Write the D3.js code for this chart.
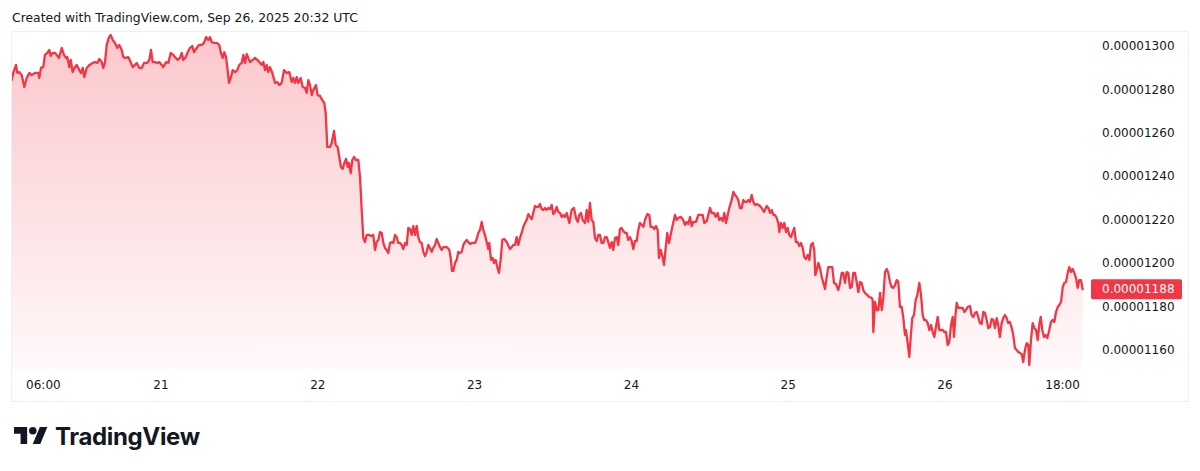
<!DOCTYPE html>
<html>
<head>
<meta charset="utf-8">
<script src="https://cdn.jsdelivr.net/npm/d3@7"></script>
<style>
  html, body { margin: 0; padding: 0; background: #ffffff; }
  svg { display: block; }
</style>
</head>
<body>
<svg id="chart" width="1200" height="471"></svg>
<script>
// ---- DATA ----
// Time of each point: hours after 2025-09-20 00:00 UTC
const hours = [
1.15,1.39,1.81,2.01,2.31,2.68,3.08,3.44,3.84,4.21,
4.71,5.22,5.37,5.63,5.98,6.24,6.60,6.90,7.12,7.42,
7.78,8.04,8.39,8.80,9.15,9.46,9.66,9.96,10.18,10.48,
10.84,11.10,11.49,11.76,12.02,12.26,12.63,13.03,13.55,13.90,
14.25,14.56,14.92,15.17,15.43,15.69,15.99,16.30,16.61,16.96,
17.31,17.62,17.98,18.23,18.64,18.99,19.36,19.67,20.02,20.28,
20.68,21.05,21.40,21.90,22.21,22.47,22.73,23.08,23.43,23.74,
24.11,24.35,24.77,25.12,25.48,25.88,26.25,26.56,26.91,27.17,
27.41,27.78,28.09,28.44,28.79,29.05,29.46,29.82,30.23,30.58,
30.89,31.24,31.50,31.76,32.11,32.53,32.92,33.18,33.44,33.69,
33.95,34.15,34.41,34.71,34.97,35.33,35.68,35.98,36.35,36.60,
36.86,37.12,37.36,37.62,38.04,38.39,38.74,39.05,39.41,39.66,
39.92,40.18,40.42,40.68,41.04,41.45,41.80,42.11,
42.47,42.83,43.24,43.64,44.01,44.25,44.51,44.77,45.01,45.38,
45.69,46.04,46.30,46.55,46.81,47.07,47.31,47.72,47.98,48.34,
48.69,48.99,49.21,49.45,49.87,50.13,50.48,50.74,51.04,51.29,
51.55,51.81,52.06,52.32,52.58,52.77,53.04,53.28,53.54,53.85,
54.20,54.46,54.72,54.96,55.22,55.48,55.84,56.14,56.49,56.75,
57.01,57.26,57.52,57.78,58.03,58.28,58.55,58.79,59.05,59.31,
59.56,59.82,60.08,60.32,60.58,60.84,61.09,61.35,61.61,61.85,
62.11,62.37,62.62,62.88,63.14,63.38,63.64,63.90,64.15,64.41,
64.67,64.91,65.17,65.43,65.68,65.94,66.20,66.44,66.70,66.96,
67.21,67.73,68.13,68.34,68.54,68.74,69.00,69.26,69.51,69.77,
70.03,70.27,70.53,70.79,71.03,71.30,71.56,72.06,72.32,72.56,
72.83,73.09,73.33,73.59,73.85,74.09,74.25,74.51,74.77,74.97,
75.23,75.47,75.73,75.99,76.24,76.54,76.91,77.42,77.68,77.92,
78.18,78.44,78.69,78.95,79.21,79.45,79.71,79.97,80.22,80.48,
80.74,80.98,81.24,81.50,81.75,82.01,82.27,82.51,82.77,83.03,
83.28,83.54,83.80,84.05,84.31,84.56,84.81,
85.07,85.33,85.58,85.83,86.10,86.50,86.86,87.21,87.52,87.78,
88.03,88.28,88.55,88.90,89.16,89.40,89.66,89.92,90.17,90.43,
90.69,90.93,91.19,91.45,91.70,91.96,92.22,92.46,92.72,92.98,
93.23,93.49,93.75,93.99,94.25,94.51,94.76,95.02,95.28,95.52,
95.78,96.04,96.29,96.55,96.81,97.05,97.31,97.57,97.82,98.08,
98.43,98.74,98.95,99.26,99.50,99.76,100.02,100.22,100.48,100.73,
100.99,101.25,101.49,101.75,102.01,102.26,102.67,102.93,103.18,103.54,
103.85,104.20,104.46,104.71,104.97,105.23,105.47,105.89,106.24,106.65,
106.91,107.16,107.53,107.77,108.03,108.29,108.64,108.90,109.21,109.45,
109.71,109.97,110.22,110.48,110.74,110.98,111.35,111.60,111.86,112.12,
112.36,112.62,112.88,113.13,113.39,113.65,113.89,114.15,114.41,114.66,
114.92,115.27,115.68,115.94,116.29,116.71,116.95,117.22,117.48,117.72,
117.98,118.24,118.48,118.64,118.89,119.16,119.40,119.66,119.92,120.17,
120.43,120.69,120.93,121.19,121.45,121.70,121.96,122.22,122.46,122.72,
122.98,123.23,123.49,123.75,123.99,124.15,124.36,124.61,
124.86,125.13,125.48,125.63,125.89,126.14,126.51,126.75,127.01,127.32,
127.67,127.93,128.19,128.43,128.69,128.95,129.20,129.46,129.72,129.96,
130.22,130.48,130.73,130.99,131.25,131.49,131.75,132.11,132.41,132.78,
132.93,133.03,133.29,133.55,133.80,134.06,134.32,134.56,134.82,135.08,
135.32,135.58,135.84,136.09,136.35,136.61,136.85,137.11,137.37,137.61,
137.87,138.03,138.23,138.54,138.75,138.99,139.25,139.51,139.76,140.07,
140.33,140.59,140.83,141.09,141.35,141.60,141.86,142.12,142.36,142.62,
142.88,143.13,143.39,143.65,143.89,144.15,144.41,144.66,144.92,145.18,
145.38,145.58,145.79,146.04,146.30,146.71,146.95,147.21,147.47,147.82,
148.08,148.33,148.59,148.85,149.09,149.35,149.61,149.86,150.12,150.38,
150.62,150.88,151.14,151.39,151.65,151.91,152.15,152.41,152.67,152.92,
153.18,153.44,153.68,153.95,154.21,154.45,154.71,154.97,155.22,155.48,
155.74,155.98,156.24,156.50,156.75,156.90,157.16,157.42,157.67,157.93,
158.19,158.43,158.65,158.89,159.15,159.41,159.66,159.96,160.22,160.48,
160.73,160.99,161.25,161.50,161.76,162.02,162.26,162.52,162.78,163.02,
163.28,163.54,163.79,164.05,164.31,164.55,164.81,165.07
];

// Price of each point, in units of 1e-8
const priceE8 = [
1284.3,1287.6,1291.3,1287.6,1288.0,1286.6,1281.1,1285.3,1287.6,1286.6,
1287.6,1287.6,1285.3,1289.9,1290.3,1295.9,1296.8,1298.2,1295.4,1296.8,
1296.8,1295.9,1294.5,1299.1,1295.9,1294.5,1294.9,1290.3,1293.6,1288.0,
1290.3,1291.3,1288.9,1287.6,1289.9,1285.7,1289.9,1291.3,1292.2,1292.6,
1292.2,1294.0,1292.6,1289.9,1292.6,1300.5,1303.7,1305.1,1302.8,1301.4,
1299.1,1300.5,1298.2,1294.9,1294.5,1294.9,1292.6,1290.3,1291.3,1292.2,
1289.9,1289.9,1292.2,1292.2,1293.6,1298.2,1292.6,1292.6,1292.2,1292.6,
1291.3,1290.3,1292.6,1292.2,1296.8,1295.9,1294.5,1293.6,1294.5,1296.8,
1293.6,1294.9,1297.2,1299.1,1300.0,1297.2,1299.1,1300.5,1300.5,1301.4,
1304.1,1302.8,1304.1,1301.8,1301.4,1301.4,1300.5,1296.8,1294.5,1297.2,
1294.9,1290.3,1283.0,1285.7,1288.9,1288.0,1288.9,1291.3,1292.2,1295.9,
1292.2,1296.3,1294.5,1292.6,1293.6,1294.5,1293.6,1292.6,1291.3,1292.6,
1288.9,1291.3,1288.0,1290.3,1287.6,1283.0,1283.4,1282.0,
1283.0,1288.9,1287.6,1288.0,1283.4,1285.3,1283.0,1285.7,1283.0,1285.3,
1281.1,1280.7,1278.4,1284.3,1282.0,1277.4,1279.7,1282.0,1277.4,1277.0,
1275.1,1273.8,1269.1,1253.5,1253.5,1255.3,1260.9,1254.4,1253.5,1248.9,
1244.3,1243.4,1246.1,1248.0,1244.3,1246.1,1241.5,1247.5,1248.9,1247.5,
1247.5,1239.7,1224.5,1211.6,1209.7,1213.0,1213.0,1212.5,1213.0,1206.1,
1209.7,1210.7,1214.3,1213.9,1209.3,1207.0,1206.1,1204.7,1209.3,1209.7,
1209.3,1213.0,1212.0,1209.3,1209.3,1208.4,1206.5,1209.3,1208.4,1216.2,
1215.7,1213.0,1217.1,1213.0,1217.1,1212.0,1209.7,1209.3,1205.2,1203.3,
1205.2,1208.4,1207.0,1205.2,1207.0,1208.4,1211.1,1209.3,1207.4,1206.1,
1207.4,1207.4,1206.1,1202.4,1196.4,1196.4,1200.1,1201.5,1205.2,1204.7,
1205.2,1208.4,1209.7,1210.7,1209.7,1208.8,1209.3,1209.3,1211.1,1213.9,
1215.3,1219.0,1215.3,1213.0,1209.7,1206.5,1209.3,1201.5,1202.4,1200.1,
1201.5,1198.2,1195.5,1201.5,1210.7,1211.1,1209.7,1206.5,1207.4,1208.4,
1208.4,1212.0,1208.4,1211.6,1213.9,1216.7,1218.5,1219.9,1222.6,1221.3,
1220.3,1223.1,1226.3,1225.9,1225.9,1227.2,1224.9,1224.5,1225.4,1224.5,
1225.4,1224.9,1226.8,1222.6,1223.6,1225.9,1223.6,
1223.1,1221.3,1222.2,1221.3,1223.1,1218.5,1224.5,1225.4,1220.8,1219.0,
1222.2,1223.1,1219.9,1218.5,1224.5,1219.0,1227.7,1219.9,1219.0,1211.6,
1210.2,1213.0,1213.0,1209.3,1209.3,1212.0,1212.0,1209.7,1207.0,1209.7,
1206.1,1211.6,1212.0,1208.4,1215.7,1216.2,1214.8,1213.9,1213.9,1210.7,
1212.0,1210.2,1206.5,1210.2,1210.2,1215.3,1218.5,1217.6,1216.7,1219.9,
1222.6,1222.2,1216.7,1216.7,1215.7,1217.1,1215.3,1202.4,1206.1,1203.3,
1199.2,1207.0,1213.9,1209.3,1213.0,1216.7,1222.2,1219.9,1220.8,1221.3,
1220.3,1217.6,1219.0,1218.0,1221.3,1217.1,1219.0,1219.0,1222.2,1222.2,
1222.2,1218.5,1219.4,1222.2,1225.4,1223.1,1223.1,1221.3,1223.1,1219.9,
1220.8,1219.4,1223.1,1218.5,1222.2,1225.4,1229.1,1232.8,1231.4,1230.5,
1229.1,1225.4,1225.4,1229.1,1228.2,1228.2,1229.1,1228.2,1231.4,1228.2,
1226.8,1227.2,1226.3,1225.4,1223.6,1226.3,1225.4,1223.1,1224.5,1222.2,
1222.2,1220.8,1218.5,1214.3,1218.5,1216.2,1218.5,1214.3,1216.2,1213.0,
1212.0,1214.3,1216.2,1209.7,1209.7,1207.9,1209.3,1207.0,1202.8,1201.9,
1203.8,1201.5,1208.4,1209.3,1206.1,1194.5,1196.8,1200.1,
1197.8,1193.6,1189.9,1188.1,1193.6,1198.2,1198.2,1198.2,1190.9,1190.4,
1187.6,1190.9,1195.5,1195.5,1190.9,1195.9,1195.5,1188.6,1189.0,1195.5,
1195.5,1191.3,1186.7,1191.3,1190.9,1187.6,1186.3,1185.3,1184.4,1184.0,
1183.0,1168.3,1182.1,1178.4,1178.4,1186.3,1178.4,1184.0,1195.9,1197.3,
1195.5,1191.3,1189.0,1188.6,1189.9,1192.2,1191.3,1179.8,1179.8,1175.2,
1166.9,1169.2,1164.6,1156.8,1166.0,1174.7,1176.1,1183.0,1185.3,1190.9,
1185.3,1176.1,1173.8,1173.8,1172.4,1169.2,1171.5,1168.3,1166.0,1170.6,
1175.2,1169.2,1169.2,1169.2,1168.3,1168.3,1162.3,1163.7,1171.5,1175.2,
1166.0,1175.2,1181.7,1179.4,1179.4,1179.4,1177.5,1178.4,1179.8,1180.3,
1176.1,1175.2,1177.0,1177.5,1175.2,1172.4,1172.0,1177.5,1177.0,1173.8,
1170.1,1170.6,1174.3,1173.8,1170.1,1174.7,1171.5,1166.0,1172.4,1174.7,
1176.1,1174.7,1172.4,1172.9,1170.1,1166.9,1160.9,1160.0,1159.1,1158.6,
1158.2,1154.5,1160.0,1163.2,1162.3,1153.1,1164.6,1172.4,1170.1,1169.2,
1164.6,1171.5,1175.2,1169.2,1166.0,1166.9,1165.5,1169.2,1172.9,1173.8,
1172.9,1177.5,1179.8,1180.7,1182.1,1189.0,1190.9,1191.3,1195.5,1198.2,
1195.9,1197.3,1195.5,1193.2,1188.6,1192.2,1192.2,1188.0
];

// Axis ticks
const timeTickHours  = [6, 24, 48, 72, 96, 120, 144, 162];
const timeTickLabels = ["06:00", "21", "22", "23", "24", "25", "26", "18:00"];
const priceTicksE8   = [1160, 1180, 1200, 1220, 1240, 1260, 1280, 1300];
const lastPriceE8    = 1188;

const titleText = "Created with TradingView.com, Sep 26, 2025 20:32 UTC";

// ---- LAYOUT ----
const panel = { x: 11.5, y: 31.5, w: 1177, h: 370 };
const plot  = { left: 12, right: 1088, top: 32, bottom: 369 };
const lineColor = "#F23645";
const textColor = "#131722";

const base = Date.UTC(2025, 8, 20, 0, 0, 0);
const toDate = h => new Date(base + h * 3600e3);

const x = d3.scaleUtc()
  .domain([toDate(0), toDate(168)])
  .range([4.2, 1101.8]);

const y = d3.scaleLinear()
  .domain([1160, 1300])
  .range([350, 46]);

const n = Math.min(hours.length, priceE8.length);
const data = d3.range(n).map(i => ({ t: toDate(hours[i]), v: priceE8[i] }));

const svg = d3.select("#chart");

// Title
svg.append("text")
  .attr("x", 12).attr("y", 22)
  .attr("font-family", "DejaVu Sans, sans-serif")
  .attr("font-size", 12.4)
  .attr("fill", textColor)
  .text(titleText);

// Panel border
svg.append("rect")
  .attr("x", panel.x).attr("y", panel.y)
  .attr("width", panel.w).attr("height", panel.h)
  .attr("fill", "#ffffff")
  .attr("stroke", "#eef0f3")
  .attr("stroke-width", 1);

// Gradient
const defs = svg.append("defs");
const grad = defs.append("linearGradient")
  .attr("id", "areaGrad")
  .attr("gradientUnits", "userSpaceOnUse")
  .attr("x1", 0).attr("x2", 0)
  .attr("y1", plot.top).attr("y2", plot.bottom);
grad.append("stop").attr("offset", "0%").attr("stop-color", lineColor).attr("stop-opacity", 0.28);
grad.append("stop").attr("offset", "100%").attr("stop-color", lineColor).attr("stop-opacity", 0.03);

defs.append("clipPath").attr("id", "plotClip")
  .append("rect")
  .attr("x", plot.left).attr("y", plot.top)
  .attr("width", plot.right - plot.left).attr("height", plot.bottom - plot.top);

const g = svg.append("g").attr("clip-path", "url(#plotClip)");

const area = d3.area()
  .x(d => x(d.t))
  .y0(plot.bottom)
  .y1(d => y(d.v));

const line = d3.line()
  .x(d => x(d.t))
  .y(d => y(d.v));

g.append("path")
  .datum(data)
  .attr("d", area)
  .attr("fill", "url(#areaGrad)");

g.append("path")
  .datum(data)
  .attr("d", line)
  .attr("fill", "none")
  .attr("stroke", lineColor)
  .attr("stroke-width", 2.3)
  .attr("stroke-linejoin", "round")
  .attr("stroke-linecap", "round");

// Price axis (right)
const fmt = v => (v * 1e-8).toFixed(8);
const yAxis = svg.append("g").attr("class", "y-axis");
yAxis.selectAll("text")
  .data(priceTicksE8)
  .join("text")
  .attr("x", 1102)
  .attr("y", d => y(d))
  .attr("dy", "0.35em")
  .attr("font-family", "DejaVu Sans, sans-serif")
  .attr("font-size", 12)
  .attr("fill", textColor)
  .text(d => fmt(d));

// Last price label
const ly = y(lastPriceE8);
svg.append("rect")
  .attr("x", 1091).attr("y", ly - 10)
  .attr("width", 91).attr("height", 20)
  .attr("rx", 2)
  .attr("fill", lineColor);
svg.append("text")
  .attr("x", 1102).attr("y", ly)
  .attr("dy", "0.35em")
  .attr("font-family", "DejaVu Sans, sans-serif")
  .attr("font-size", 12)
  .attr("fill", "#ffffff")
  .text(fmt(lastPriceE8));

// Time axis (bottom)
const xAxis = svg.append("g").attr("class", "x-axis");
xAxis.selectAll("text")
  .data(timeTickHours)
  .join("text")
  .attr("x", d => x(toDate(d)))
  .attr("y", 385)
  .attr("dy", "0.35em")
  .attr("text-anchor", "middle")
  .attr("font-family", "DejaVu Sans, sans-serif")
  .attr("font-size", 12)
  .attr("fill", textColor)
  .text((d, i) => timeTickLabels[i]);

// TradingView logo
const logo = svg.append("g").attr("transform", "translate(14,423.3) scale(0.94)");
logo.append("path")
  .attr("d", "M14 22H7V11H0V4h14v18zM28 22h-8l7.5-18h8L28 22z")
  .attr("fill", textColor);
logo.append("circle").attr("cx", 20).attr("cy", 8).attr("r", 4).attr("fill", textColor);

svg.append("text")
  .attr("x", 55).attr("y", 445)
  .attr("font-family", "Inter, Roboto, sans-serif")
  .attr("font-weight", 700)
  .attr("font-size", 24)
  .attr("letter-spacing", -0.35)
  .attr("fill", textColor)
  .text("TradingView");
</script>
</body>
</html>
